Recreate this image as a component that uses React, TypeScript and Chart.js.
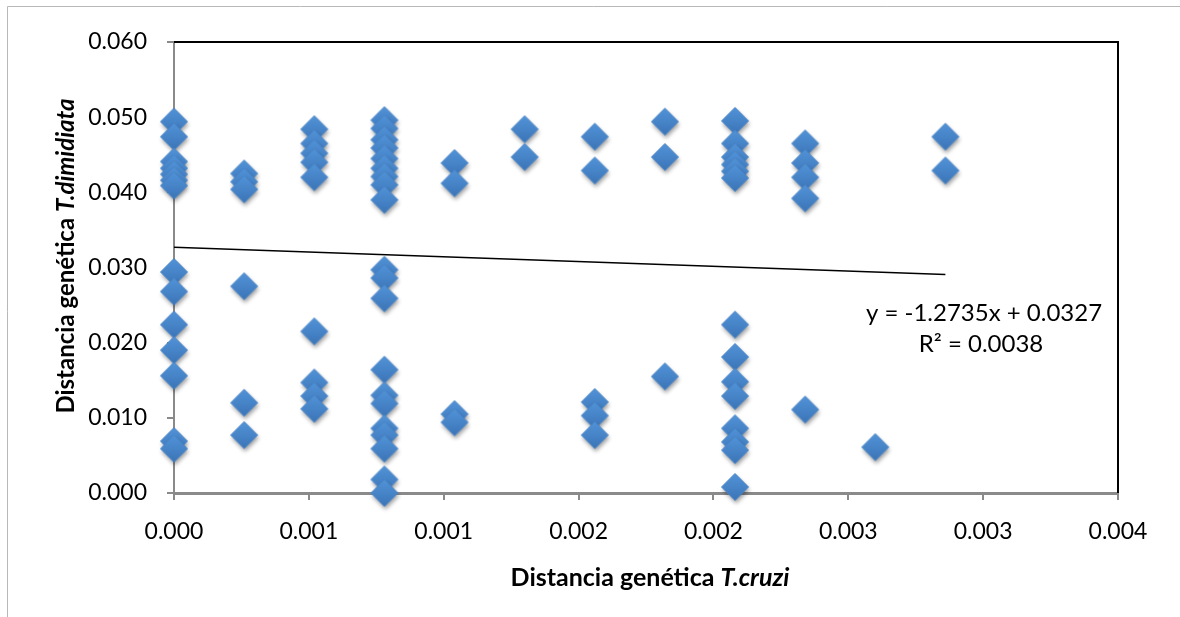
import React, { useEffect, useRef } from "react";
import { Chart, registerables } from "chart.js";

Chart.register(...registerables);

// T. cruzi genetic distance levels (x) and T. dimidiata distances (y) per level
const cruziLevels = [0, 0.00026, 0.00052, 0.00078, 0.00104, 0.0013, 0.00156, 0.00182, 0.00208, 0.00234, 0.0026, 0.00286];

const dimAt0 = [0.0494, 0.0474, 0.0441, 0.0432, 0.0424, 0.0416, 0.0409, 0.0294, 0.0268, 0.0224, 0.019, 0.0156, 0.0069, 0.0059];
const dimAt1 = [0.0425, 0.0414, 0.0404, 0.0275, 0.012, 0.0077];
const dimAt2 = [0.0484, 0.0465, 0.0452, 0.044, 0.042, 0.0215, 0.0147, 0.0129, 0.0112];
const dimAt3 = [0.0496, 0.0485, 0.047, 0.0459, 0.0445, 0.0432, 0.0421, 0.041, 0.039, 0.0297, 0.0286, 0.0259, 0.0164, 0.013, 0.0119, 0.0086, 0.0077, 0.0059, 0.0018, 0.0];
const dimAt4 = [0.0439, 0.0412, 0.0105, 0.0094];
const dimAt5 = [0.0484, 0.0447];
const dimAt6 = [0.0474, 0.0429, 0.0121, 0.0103, 0.0077];
const dimAt7 = [0.0494, 0.0447, 0.0155];
const dimAt8 = [0.0495, 0.0465, 0.0447, 0.0437, 0.0428, 0.0419, 0.0224, 0.0181, 0.0148, 0.0129, 0.0086, 0.0068, 0.0057, 0.0008];
const dimAt9 = [0.0465, 0.0439, 0.042, 0.0392, 0.0111];
const dimAt10 = [0.0061];
const dimAt11 = [0.0474, 0.0429];

const dimColumns = [dimAt0, dimAt1, dimAt2, dimAt3, dimAt4, dimAt5, dimAt6, dimAt7, dimAt8, dimAt9, dimAt10, dimAt11];

const trendSlope = -1.2735;
const trendIntercept = 0.0327;
const trendLabel = "y = -1.2735x + 0.0327";
const r2Label = "R² = 0.0038";

const xTickLabels = ["0.000", "0.001", "0.001", "0.002", "0.002", "0.003", "0.003", "0.004"];
const yTickLabels = ["0.000", "0.010", "0.020", "0.030", "0.040", "0.050", "0.060"];

const FONT = "Lato, 'Open Sans', sans-serif";

function makeDiamond(): HTMLCanvasElement {
  const size = 40;
  const r = 13.5;
  const c = document.createElement("canvas");
  c.width = size;
  c.height = size;
  const ctx = c.getContext("2d")!;
  const cx = size / 2;
  const cy = size / 2;
  const path = () => {
    ctx.beginPath();
    ctx.moveTo(cx, cy - r);
    ctx.lineTo(cx + r, cy);
    ctx.lineTo(cx, cy + r);
    ctx.lineTo(cx - r, cy);
    ctx.closePath();
  };
  ctx.save();
  ctx.shadowColor = "rgba(0,0,0,0.38)";
  ctx.shadowBlur = 4;
  ctx.shadowOffsetX = 1;
  ctx.shadowOffsetY = 3;
  path();
  const g = ctx.createLinearGradient(0, cy - r, 0, cy + r);
  g.addColorStop(0, "#5192d6");
  g.addColorStop(0.5, "#4784c8");
  g.addColorStop(1, "#3a74b6");
  ctx.fillStyle = g;
  ctx.fill();
  ctx.restore();
  path();
  ctx.strokeStyle = "#4a86c9";
  ctx.lineWidth = 1;
  ctx.stroke();
  return c;
}

function drawMixed(ctx: CanvasRenderingContext2D, parts: { text: string; italic: boolean }[], size: number) {
  let total = 0;
  const widths = parts.map((p) => {
    ctx.font = `${p.italic ? "italic " : ""}bold ${size}px ${FONT}`;
    const w = ctx.measureText(p.text).width;
    total += w;
    return w;
  });
  let x = -total / 2;
  parts.forEach((p, i) => {
    ctx.font = `${p.italic ? "italic " : ""}bold ${size}px ${FONT}`;
    ctx.fillText(p.text, x, 0);
    x += widths[i];
  });
}

const decorPlugin = {
  id: "decor",
  beforeDraw(chart: any) {
    const ctx = chart.ctx as CanvasRenderingContext2D;
    ctx.save();
    ctx.strokeStyle = "#b8b8b8";
    ctx.lineWidth = 1;
    ctx.beginPath();
    ctx.moveTo(7.5, chart.height);
    ctx.lineTo(7.5, 6.5);
    ctx.lineTo(chart.width, 6.5);
    ctx.stroke();
    ctx.restore();
  },
  afterDraw(chart: any) {
    const ctx = chart.ctx as CanvasRenderingContext2D;
    const a = chart.chartArea;
    ctx.save();
    // plot area top/right border
    ctx.strokeStyle = "#000";
    ctx.lineWidth = 2;
    ctx.beginPath();
    ctx.moveTo(a.left, a.top);
    ctx.lineTo(a.right, a.top);
    ctx.lineTo(a.right, a.bottom);
    ctx.stroke();

    // trendline equation
    ctx.fillStyle = "#000";
    ctx.textAlign = "center";
    ctx.textBaseline = "middle";
    ctx.font = `24px ${FONT}`;
    ctx.fillText(trendLabel, 984, 313);
    ctx.fillText(r2Label, 981, 344);

    // axis titles
    ctx.textAlign = "left";
    ctx.save();
    ctx.translate(650, 578);
    drawMixed(ctx, [{ text: "Distancia genética ", italic: false }, { text: "T.cruzi", italic: true }], 25);
    ctx.restore();

    ctx.save();
    ctx.translate(66, 256);
    ctx.rotate(-Math.PI / 2);
    drawMixed(ctx, [{ text: "Distancia genética ", italic: false }, { text: "T.dimidiata", italic: true }], 24);
    ctx.restore();

    ctx.restore();
  },
};

export default function App() {
  const ref = useRef<HTMLCanvasElement | null>(null);

  useEffect(() => {
    if (!ref.current) return;
    const diamond = makeDiamond();
    const points: { x: number; y: number }[] = [];
    dimColumns.forEach((col, i) => {
      col.forEach((y) => points.push({ x: cruziLevels[i], y }));
    });
    const xEnd = cruziLevels[cruziLevels.length - 1];
    const trend = [
      { x: 0, y: trendIntercept },
      { x: xEnd, y: trendIntercept + trendSlope * xEnd },
    ];

    const chart = new Chart(ref.current, {
      type: "scatter",
      data: {
        datasets: [
          {
            type: "line",
            data: trend,
            borderColor: "#000",
            borderWidth: 1.5,
            pointRadius: 0,
            fill: false,
            order: 2,
          } as any,
          {
            data: points,
            pointStyle: diamond as any,
            pointRadius: 14,
            clip: false,
            order: 1,
          } as any,
        ],
      },
      options: {
        animation: false,
        responsive: true,
        maintainAspectRatio: false,
        layout: { padding: { top: 42, right: 62, left: 0, bottom: 0 } },
        plugins: {
          legend: { display: false },
          tooltip: { enabled: false },
        },
        scales: {
          x: {
            type: "linear",
            min: 0,
            max: 0.0035,
            afterBuildTicks: (scale: any) => {
              scale.ticks = xTickLabels.map((_, i) => ({ value: i * 0.0005 }));
            },
            afterFit: (scale: any) => {
              scale.height = 124;
            },
            ticks: {
              callback: (_v: any, i: number) => xTickLabels[i],
              color: "#000",
              font: { family: FONT, size: 23 },
              padding: 18,
              maxRotation: 0,
              autoSkip: false,
            },
            grid: {
              display: true,
              drawOnChartArea: false,
              drawTicks: true,
              tickLength: 7,
              color: "#8a8a8a",
              lineWidth: 2,
            },
            border: { display: true, color: "#8a8a8a", width: 3 },
          },
          y: {
            type: "linear",
            min: 0,
            max: 0.06,
            afterBuildTicks: (scale: any) => {
              scale.ticks = yTickLabels.map((_, i) => ({ value: i * 0.01 }));
            },
            afterFit: (scale: any) => {
              scale.width = 174;
            },
            ticks: {
              callback: (_v: any, i: number) => yTickLabels[i],
              color: "#000",
              font: { family: FONT, size: 23 },
              padding: 20,
              autoSkip: false,
            },
            grid: {
              display: true,
              drawOnChartArea: false,
              drawTicks: true,
              tickLength: 7,
              color: "#8a8a8a",
              lineWidth: 2,
            },
            border: { display: true, color: "#8a8a8a", width: 2 },
          },
        },
      },
      plugins: [decorPlugin],
    });
    return () => chart.destroy();
  }, []);

  return (
    <div style={{ position: "fixed", left: 0, top: 0, width: 1180, height: 617, background: "#fff" }}>
      <canvas ref={ref} />
    </div>
  );
}
